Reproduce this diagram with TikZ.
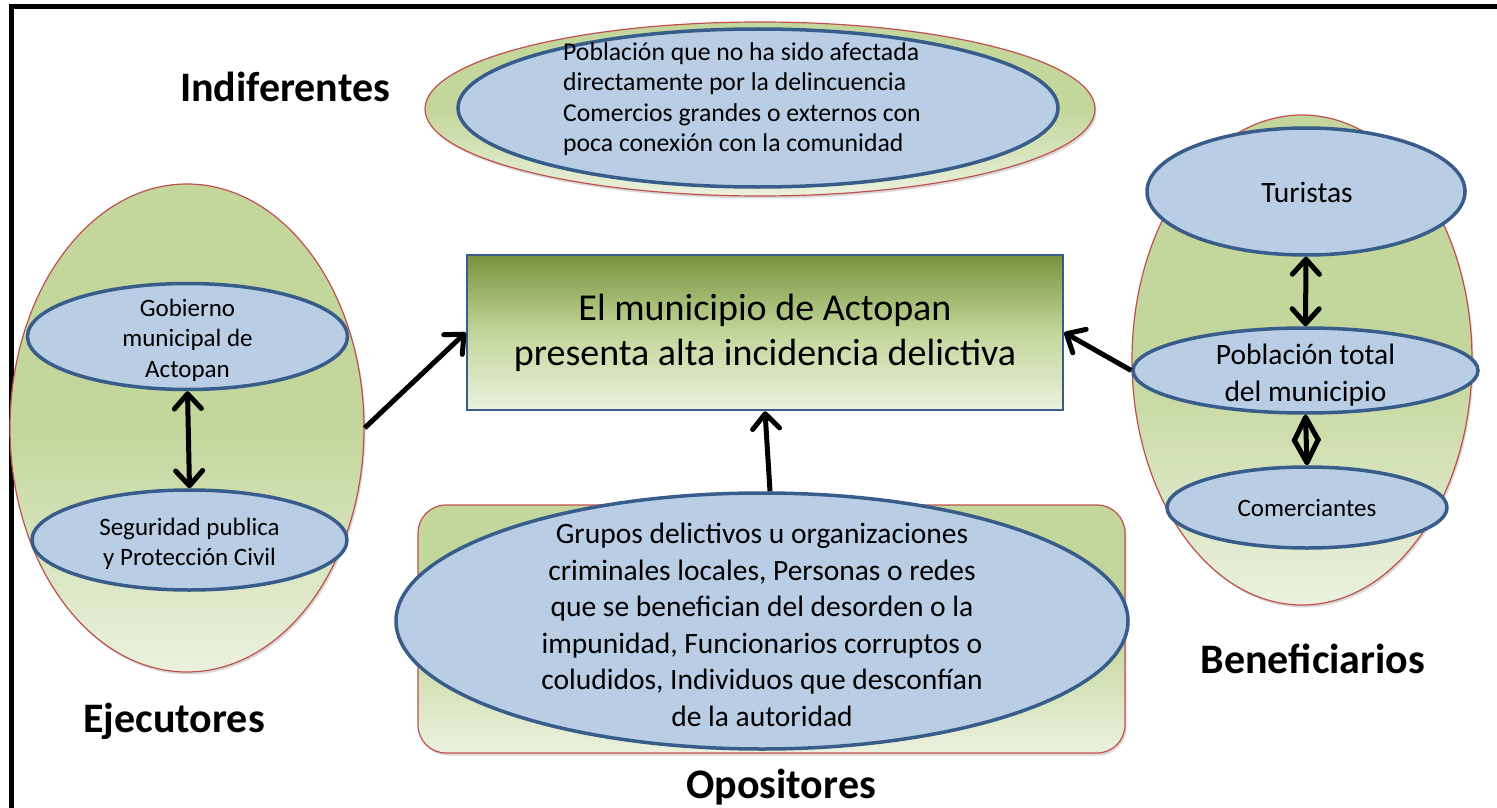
\documentclass[tikz,border=0pt]{standalone}
\usepackage{fontspec}
\setmainfont{Carlito}
\usetikzlibrary{shapes.geometric,arrows.meta,shadows}

\definecolor{verdeclaro}{HTML}{C3D69B}
\definecolor{verdepalido}{HTML}{EBF1DE}
\definecolor{verdeoscuro}{HTML}{77933C}
\definecolor{rojoborde}{HTML}{C0504D}
\definecolor{azulrelleno}{HTML}{B9CDE5}
\definecolor{azulborde}{HTML}{385D8A}

\tikzset{
grupo/.style={ellipse, draw=rojoborde, line width=1.2pt,
  top color=verdeclaro, bottom color=verdepalido, middle color=verdeclaro,
  inner sep=0pt, drop shadow={shadow xshift=1.5pt, shadow yshift=-2.5pt, opacity=.3}},
actor/.style={ellipse, draw=azulborde, fill=azulrelleno, line width=3.5pt, inner sep=0pt},
texto/.style={inner sep=0pt, align=center, font=\fontsize{25}{30.5}\selectfont},
textogrande/.style={inner sep=0pt, align=center, font=\fontsize{29.5}{36.5}\selectfont},
titulo/.style={inner sep=0pt, anchor=base, font=\bfseries\fontsize{42}{50}\selectfont},
flecha/.style={line width=5pt, -{Straight Barb[length=15pt,width=27pt,round]}},
doble/.style={line width=5pt,
  {Straight Barb[length=15pt,width=27pt,round]}-{Straight Barb[length=15pt,width=27pt,round]}},
diamante/.style={line width=5pt,
  {Straight Barb[length=23pt,width=24pt,round]}-{Straight Barb[length=23pt,width=24pt,round]}},
}

\begin{document}
\begin{tikzpicture}[x=1pt,y=-1pt]
\useasboundingbox (0,0) rectangle (1497,808);
% marco
\draw[line width=5pt] (11,808) -- (11,7) -- (1497,7);

% indiferentes
\node[grupo, minimum width=670pt, minimum height=174pt] (indif) at (760,109) {};
\node[actor, minimum width=600pt, minimum height=158pt] (indifpob) at (758,108) {};
\node[texto, align=left, anchor=west, font=\fontsize{25.7}{30.5}\selectfont] (indiftxt) at (563,99)
  {Población que no ha sido afectada\\directamente por la delincuencia\\Comercios grandes o externos con\\poca conexión con la comunidad};
\node[titulo] (tindif) at (285,102) {Indiferentes};

% problema central
\node[draw=azulborde, line width=2.5pt, top color=verdeoscuro, bottom color=verdepalido,
  middle color=verdeclaro, minimum width=596pt, minimum height=155pt, inner sep=0pt,
  align=center, font=\fontsize{38}{45}\selectfont] (prob) at (765,332.5)
  {El municipio de Actopan\\presenta alta incidencia delictiva};

% ejecutores
\node[grupo, minimum width=354pt, minimum height=488pt] (ejec) at (187,428) {};
\node[actor, minimum width=320pt, minimum height=106pt] (gob) at (187.5,336.5) {};
\node[actor, minimum width=315pt, minimum height=100pt] (seg) at (189.5,540) {};
\node[texto] (gobtxt) at (187.5,340) {Gobierno\\municipal de\\Actopan};
\node[texto] (segtxt) at (189.5,544) {Seguridad publica\\y Protección Civil};
\node[titulo] (tejec) at (174,732) {Ejecutores};

% beneficiarios
\node[grupo, minimum width=340pt, minimum height=490pt] (benef) at (1302,360) {};
\node[actor, minimum width=318pt, minimum height=127pt] (tur) at (1306,191.5) {};
\node[actor, minimum width=345pt, minimum height=85pt] (pob) at (1305.5,370.5) {};
\node[actor, minimum width=280pt, minimum height=81pt] (com) at (1307,507.5) {};
\node[textogrande] (turtxt) at (1307,192) {Turistas};
\node[textogrande] (pobtxt) at (1305.5,375) {Población total\\del municipio};
\node[texto] (comtxt) at (1307,508) {Comerciantes};
\node[titulo] (tbenef) at (1313,673) {Beneficiarios};

% opositores
\node[draw=rojoborde, line width=1.2pt, rounded corners=28pt, top color=verdeclaro,
  bottom color=verdepalido, middle color=verdeclaro, minimum width=707pt,
  minimum height=248pt, inner sep=0pt,
  drop shadow={shadow xshift=1.5pt, shadow yshift=-2.5pt, opacity=.3}] (oposfondo) at (771.5,629) {};
\node[actor, minimum width=732pt, minimum height=256pt] (opos) at (762,621) {};
\node[textogrande] (opostxt) at (762,625)
  {Grupos delictivos u organizaciones\\criminales locales, Personas o redes\\que se benefician del desorden o la\\impunidad, Funcionarios corruptos o\\coludidos, Individuos que desconfían\\de la autoridad};
\node[titulo] (topos) at (781,798) {Opositores};

% flechas
\draw[flecha] (ejec.east) -- (prob.west);
\draw[flecha] (pob.west) -- (prob.east);
\draw[flecha] ([xshift=8pt]opos.north) -- (prob.south);
\draw[doble] (gob.south) -- (seg.north);
\draw[doble] (tur.south) -- (pob.north);
\draw[diamante] (pob.south) -- (com.north);
\end{tikzpicture}
\end{document}
